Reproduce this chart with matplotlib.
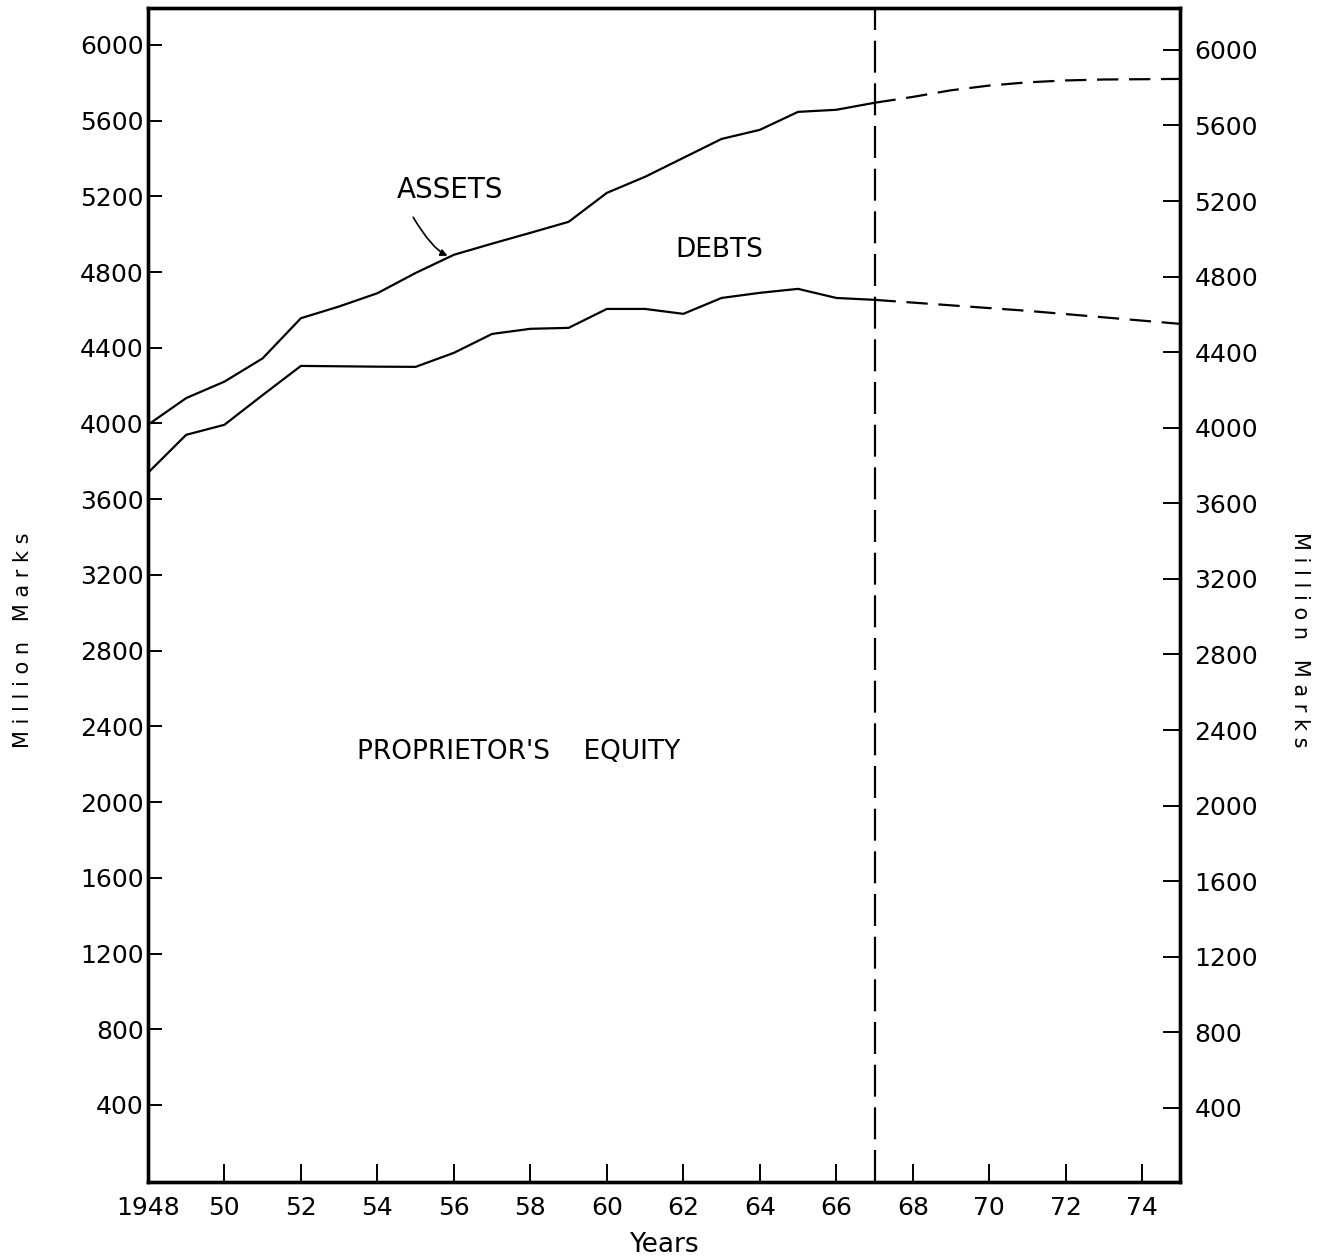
import numpy as np
import matplotlib.pyplot as plt

# Datos (millones de marcos)
years = [1948, 1949, 1950, 1951, 1952, 1953, 1954, 1955, 1956, 1957,
         1958, 1959, 1960, 1961, 1962, 1963, 1964, 1965, 1966, 1967]
assets = [3993, 4134, 4221, 4344, 4556, 4618, 4688, 4795, 4891, 4950,
          5007, 5065, 5218, 5303, 5403, 5503, 5551, 5646, 5657, 5694]
lower = [3739, 3940, 3993, 4150, 4304, 4302, 4300, 4299, 4373, 4473,
         4500, 4505, 4605, 4605, 4579, 4663, 4690, 4711, 4663, 4653]

# Proyección (línea discontinua)
proj_years = [1967, 1968, 1969, 1970, 1971, 1972, 1973, 1975]
proj_assets = [5694, 5725, 5760, 5785, 5802, 5812, 5817, 5820]
proj_lower_years = [1967, 1971, 1975]
proj_lower = [4653, 4595, 4526]

y_ticks = list(range(400, 6001, 400))
x_ticks = list(range(1948, 1975, 2))
x_labels = ["1948"] + [str(y % 100) for y in x_ticks[1:]]

fs = 18

fig = plt.figure(figsize=(13.28, 12.6), dpi=100)
ax = fig.add_axes([0.1114, 0.0619, 0.7775, 0.9318])

ax.plot(years, assets, color="k", lw=1.6)
ax.plot(years, lower, color="k", lw=1.6)
ax.plot(proj_years, proj_assets, color="k", lw=1.6, dashes=(9.6, 4.8))
ax.plot(proj_lower_years, proj_lower, color="k", lw=1.6, dashes=(9.6, 4.8))
ax.axvline(1967, color="k", lw=1.6, dashes=(14.4, 4.8))

ax.set_xlim(1948, 1975)
ax.set_ylim(-7, 6195)
ax.set_xticks(x_ticks)
ax.set_xticklabels(x_labels)
ax.set_yticks(y_ticks)
ax.tick_params(axis="both", direction="in", labelsize=fs, width=1.4, colors="k")
ax.tick_params(axis="x", length=13, pad=10)
ax.tick_params(axis="y", length=10, pad=3)
for s in ax.spines.values():
    s.set_linewidth(2.4)

ax2 = ax.twinx()
ax2.set_ylim(8, 6222)
ax2.set_yticks(y_ticks)
ax2.tick_params(axis="y", direction="in", length=12, width=1.4, pad=10, labelsize=fs)
for s in ax2.spines.values():
    s.set_linewidth(2.4)

ax.text(1955.9, 5234, "ASSETS", fontsize=20, ha="center", va="center")
ax.annotate("", xy=(1955.9, 4880), xytext=(1954.9, 5102),
            arrowprops=dict(arrowstyle="-|>", color="k", lw=1.2,
                            connectionstyle="angle3,angleA=-60,angleB=-20"))
ax.text(1962.95, 4917, "DEBTS", fontsize=19, ha="center", va="center")
ax.text(1957.7, 2265, "PROPRIETOR'S    EQUITY", fontsize=19, ha="center", va="center")

fig.text(0.5, 0.012, "Years", fontsize=19, ha="center", va="center")
fig.text(0.017, 0.492, "M i l l i o n   M a r k s", fontsize=15, ha="center", va="center", rotation=90)
fig.text(0.979, 0.492, "M i l l i o n   M a r k s", fontsize=15, ha="center", va="center", rotation=270)

plt.savefig("out.png", dpi=100)
